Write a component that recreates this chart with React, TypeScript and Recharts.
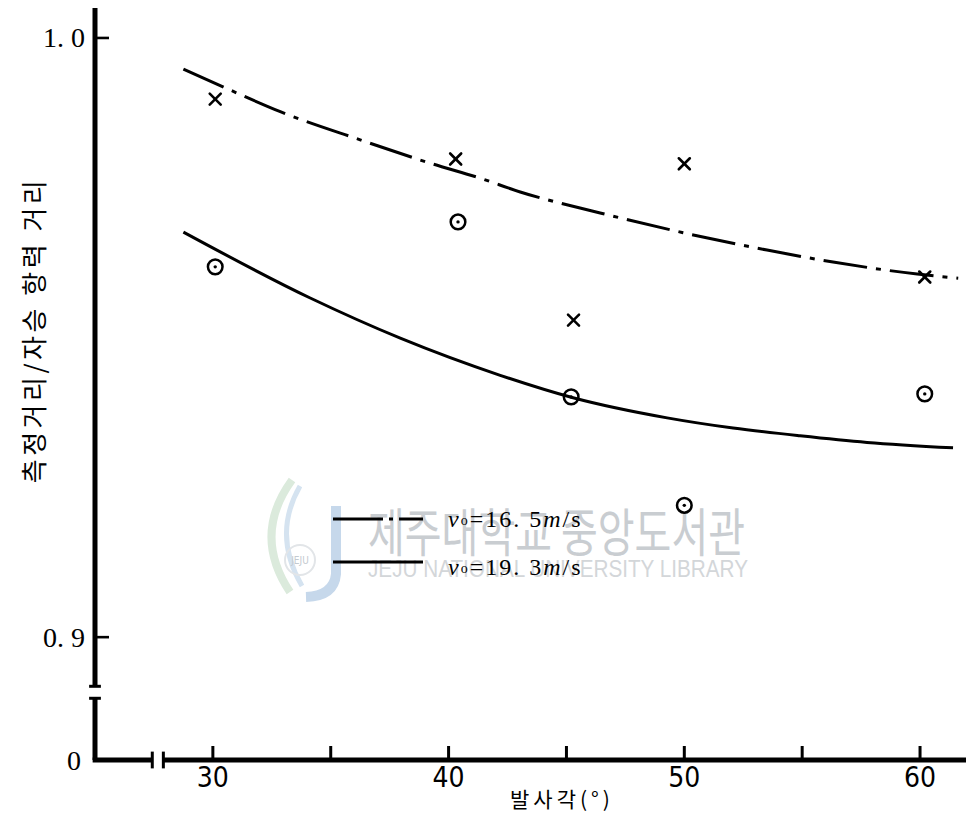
import React from 'react';
import { ComposedChart, Line, Scatter, XAxis, YAxis, ReferenceLine, Legend } from 'recharts';

// ---- axis ranges (broken axes: the bottom of the y range is labelled "0") ----
const Y_ZERO = 0.8795;
const Y_MAX = 1.005;
const X_MIN = 25;
const X_MAX = 61.95;
const Y_BREAK = [0.8898, 0.8918];
const X_BREAK = [27.43, 27.9];

const xTicks = [30, 35, 40, 45, 50, 55, 60];
const yTicks = [Y_ZERO, 0.9, 1.0];

// ---- measured points ----
const anglesV165 = [30.1, 40.3, 45.3, 50.0, 60.2];
const ratioV165 = [0.9898, 0.9798, 0.9529, 0.979, 0.9601];
const anglesV193 = [30.1, 40.4, 45.2, 50.0, 60.2];
const ratioV193 = [0.9618, 0.9693, 0.9401, 0.922, 0.9406];

// ---- fitted curves ----
const fitAnglesV165 = [28.75, 30.74, 32.86, 36.25, 39.22, 41.34, 43.04, 46.43, 49.95, 53.51, 56.31, 59.88, 61.62];
const fitV165 = [0.9948, 0.9913, 0.9877, 0.983, 0.9791, 0.9766, 0.9743, 0.9708, 0.9675, 0.9646, 0.9626, 0.9606, 0.9599];
const fitAnglesV193 = [28.75, 34.13, 37.95, 42.19, 45.24, 49.27, 52.07, 54.91, 57.75, 61.4];
const fitV193 = [0.9676, 0.9566, 0.9499, 0.9437, 0.94, 0.9366, 0.9349, 0.9336, 0.9325, 0.9316];

const X_TITLE = '발사각(°)';
const Y_TITLE = '측정거리/자승 항력 거리';
const legendItems = [
  { speed: '16. 5', dashed: true },
  { speed: '19. 3', dashed: false },
];

const zip = (xs: number[], ys: number[]) => xs.map((x, i) => ({ x, y: ys[i] }));
const ptsV165 = zip(anglesV165, ratioV165);
const ptsV193 = zip(anglesV193, ratioV193);
const curveV165 = zip(fitAnglesV165, fitV165);
const curveV193 = zip(fitAnglesV193, fitV193);

const DASH_DOT = '44 9 5 9';
const SERIF = '"Liberation Serif", "DejaVu Serif", serif';
const NARROW = '"Liberation Sans Narrow", "DejaVu Sans Condensed", "Liberation Sans", sans-serif';
const KR = '"Noto Sans CJK KR", "Noto Sans", sans-serif';

function CrossMark(props: any) {
  const { cx, cy } = props;
  const s = 5.5;
  return (
    <g stroke="#000" strokeWidth={2.6} strokeLinecap="round">
      <line x1={cx - s} y1={cy - s} x2={cx + s} y2={cy + s} />
      <line x1={cx - s} y1={cy + s} x2={cx + s} y2={cy - s} />
    </g>
  );
}

function CircleDotMark(props: any) {
  const { cx, cy } = props;
  return (
    <g>
      <circle cx={cx} cy={cy} r={7.3} fill="none" stroke="#000" strokeWidth={2.5} />
      <circle cx={cx} cy={cy} r={1.7} fill="#000" />
    </g>
  );
}

function YTick(props: any) {
  const { x, y, payload } = props;
  const v = payload.value;
  const isZero = Math.abs(v - Y_ZERO) < 1e-6;
  const label = isZero ? '0' : v.toFixed(1).replace('.', '. ');
  return (
    <g>
      {!isZero && <line x1={x + 10} x2={x + 24} y1={y} y2={y} stroke="#000" strokeWidth={2.6} />}
      <text x={isZero ? x - 4 : x} y={y} dy="0.34em" textAnchor="end" fontFamily={SERIF} fontSize={28} fill="#000">
        {label}
      </text>
    </g>
  );
}

function XTick(props: any) {
  const { x, y, payload } = props;
  const v = payload.value;
  const axisY = y - 8;
  return (
    <g>
      <line x1={x} x2={x} y1={axisY} y2={axisY - 14} stroke="#000" strokeWidth={3} />
      {v % 10 === 0 && (
        <text x={x} y={axisY + 27} textAnchor="middle" fontFamily={NARROW} fontSize={28} fill="#000">
          {v}
        </text>
      )}
    </g>
  );
}

function YTitle(props: any) {
  const vb = props.viewBox || { x: 0, y: 8 };
  const cx = vb.x + 32;
  const cy = vb.y + 322;
  return (
    <text
      x={cx}
      y={cy}
      transform={`rotate(-90 ${cx} ${cy})`}
      textAnchor="middle"
      dominantBaseline="central"
      fontFamily={KR}
      fontSize={26}
      letterSpacing={3.5}
      fill="#000"
    >
      {Y_TITLE}
    </text>
  );
}

function XTitle(props: any) {
  const vb = props.viewBox || { x: 95, y: 760 };
  return (
    <text x={vb.x + 415} y={vb.y + 47} fontFamily={KR} fontSize={21} letterSpacing={4} fill="#000">
      {X_TITLE}
    </text>
  );
}

function LegendContent() {
  return (
    <svg width={300} height={90} style={{ display: 'block', overflow: 'visible' }}>
      {legendItems.map((it, i) => {
        const ly = 19 + i * 43;
        return (
          <g key={i}>
            <line
              x1={3}
              x2={93}
              y1={ly}
              y2={ly}
              stroke="#000"
              strokeWidth={3}
              strokeDasharray={it.dashed ? '50 6 4 6' : undefined}
            />
            <text x={118} y={ly + 8 + i * 5} fontFamily={SERIF} fontSize={24} letterSpacing={2} fill="#000">
              <tspan fontStyle="italic">v</tspan>
              <tspan fontSize={14} dy={-2}>o</tspan>
              <tspan dy={2}>{'=' + it.speed}</tspan>
              <tspan fontStyle="italic">m</tspan>
              <tspan>/s</tspan>
            </text>
          </g>
        );
      })}
    </svg>
  );
}

function Watermark() {
  return (
    <svg width={966} height={814} style={{ position: 'absolute', left: 0, top: 0 }}>
      <path d="M 292 480 Q 252 535 290 592" stroke="#dbeadc" strokeWidth={8} fill="none" />
      <path d="M 300 486 Q 272 535 302 586" stroke="#d5e3f0" strokeWidth={5} fill="none" />
      <circle cx={300} cy={560} r={15} fill="none" stroke="#e2e5e8" strokeWidth={2} />
      <text x={300} y={564} textAnchor="middle" fontFamily={NARROW} fontSize={10} fill="#c4cad0">JEJU</text>
      <path d="M 336 506 L 336 574 Q 334 596 306 597" stroke="#c6d8eb" strokeWidth={10} fill="none" />
      <text x={368} y={552} textLength={377} lengthAdjust="spacingAndGlyphs" fontFamily={KR} fontSize={52} fill="#c9cdd1">
        제주대학교 중앙도서관
      </text>
      <text x={368} y={577} textLength={380} lengthAdjust="spacingAndGlyphs" fontFamily={'"Liberation Sans", sans-serif'} fontSize={23} fill="#d3d6d9">
        JEJU NATIONAL UNIVERSITY LIBRARY
      </text>
    </svg>
  );
}

export default function App() {
  return (
    <div style={{ position: 'absolute', left: 0, top: 0, width: 966, height: 814, background: '#fff', overflow: 'hidden' }}>
      <Watermark />
      <div style={{ position: 'absolute', left: 0, top: 0 }}>
        <ComposedChart width={966} height={814} margin={{ top: 8, right: 0, bottom: 0, left: 0 }}>
          <XAxis
            type="number"
            dataKey="x"
            domain={[X_MIN, X_MAX]}
            ticks={xTicks}
            interval={0}
            allowDataOverflow
            axisLine={false}
            tickLine={false}
            tickSize={0}
            tickMargin={8}
            tick={<XTick />}
            height={54}
            label={{ value: X_TITLE, content: XTitle }}
          />
          <YAxis
            type="number"
            dataKey="y"
            domain={[Y_ZERO, Y_MAX]}
            ticks={yTicks}
            interval={0}
            allowDataOverflow
            axisLine={false}
            tickLine={false}
            tickSize={0}
            tickMargin={10}
            tick={<YTick />}
            width={95}
            label={{ value: Y_TITLE, content: YTitle }}
          />
          {/* broken axis lines */}
          <ReferenceLine segment={[{ x: X_MIN, y: Y_ZERO }, { x: X_MIN, y: Y_BREAK[0] }]} stroke="#000" strokeWidth={5} ifOverflow="visible" />
          <ReferenceLine segment={[{ x: X_MIN, y: Y_BREAK[1] }, { x: X_MIN, y: Y_MAX }]} stroke="#000" strokeWidth={5} ifOverflow="visible" />
          <ReferenceLine segment={[{ x: X_MIN - 0.25, y: Y_BREAK[0] }, { x: X_MIN + 0.25, y: Y_BREAK[0] }]} stroke="#000" strokeWidth={3} ifOverflow="visible" />
          <ReferenceLine segment={[{ x: X_MIN - 0.25, y: Y_BREAK[1] }, { x: X_MIN + 0.25, y: Y_BREAK[1] }]} stroke="#000" strokeWidth={3} ifOverflow="visible" />
          <ReferenceLine segment={[{ x: X_MIN - 0.1, y: Y_ZERO }, { x: X_BREAK[0], y: Y_ZERO }]} stroke="#000" strokeWidth={5} ifOverflow="visible" />
          <ReferenceLine segment={[{ x: X_BREAK[1], y: Y_ZERO }, { x: X_MAX, y: Y_ZERO }]} stroke="#000" strokeWidth={5} ifOverflow="visible" />
          <ReferenceLine segment={[{ x: X_BREAK[0], y: Y_ZERO - 0.0014 }, { x: X_BREAK[0], y: Y_ZERO + 0.0014 }]} stroke="#000" strokeWidth={3} ifOverflow="visible" />
          <ReferenceLine segment={[{ x: X_BREAK[1], y: Y_ZERO - 0.0014 }, { x: X_BREAK[1], y: Y_ZERO + 0.0014 }]} stroke="#000" strokeWidth={3} ifOverflow="visible" />

          <Line
            data={curveV165}
            dataKey="y"
            type="monotone"
            stroke="#000"
            strokeWidth={3}
            strokeDasharray={DASH_DOT}
            dot={false}
            activeDot={false}
            isAnimationActive={false}
            legendType="none"
          />
          <Line
            data={curveV193}
            dataKey="y"
            type="monotone"
            stroke="#000"
            strokeWidth={3}
            dot={false}
            activeDot={false}
            isAnimationActive={false}
            legendType="none"
          />
          <Scatter data={ptsV165} dataKey="y" shape={CrossMark} isAnimationActive={false} legendType="none" />
          <Scatter data={ptsV193} dataKey="y" shape={CircleDotMark} isAnimationActive={false} legendType="none" />
          <Legend
            layout="vertical"
            align="center"
            verticalAlign="middle"
            content={<LegendContent />}
            wrapperStyle={{ left: 330, top: 500, width: 300, height: 90 }}
          />
        </ComposedChart>
      </div>
    </div>
  );
}
